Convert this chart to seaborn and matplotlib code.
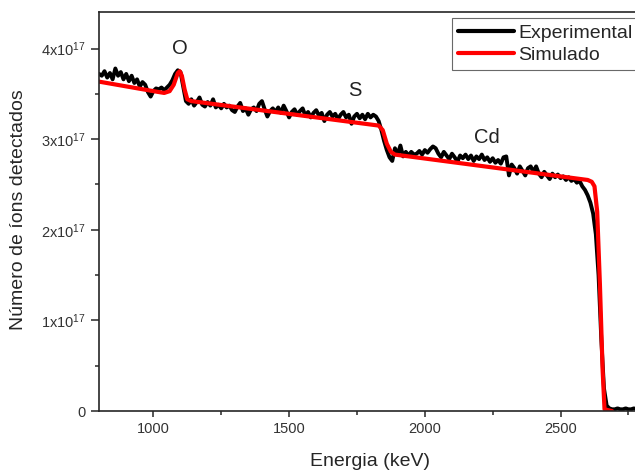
import numpy as np
import pandas as pd
import matplotlib
matplotlib.use('Agg')
import matplotlib.pyplot as plt
import seaborn as sns
from matplotlib.ticker import FixedLocator, MultipleLocator

# Experimental RBS spectrum (channel energies in keV, counts in units of 1e17)
exp_energy = np.arange(800, 2810, 10)
exp_counts = [
    3.72, 3.70, 3.75, 3.68, 3.73, 3.66, 3.78, 3.70, 3.74, 3.66,
    3.72, 3.64, 3.70, 3.62, 3.66, 3.58, 3.63, 3.60, 3.52, 3.47,
    3.53, 3.56, 3.55, 3.57, 3.54, 3.57, 3.60, 3.65, 3.72, 3.76,
    3.74, 3.58, 3.42, 3.39, 3.44, 3.37, 3.41, 3.46, 3.38, 3.36,
    3.41, 3.37, 3.44, 3.35, 3.38, 3.34, 3.39, 3.35, 3.37, 3.32,
    3.30, 3.36, 3.40, 3.31, 3.34, 3.27, 3.33, 3.35, 3.31, 3.39,
    3.42, 3.33, 3.25, 3.31, 3.34, 3.30, 3.35, 3.29, 3.37, 3.31,
    3.24, 3.30, 3.33, 3.27, 3.31, 3.34, 3.26, 3.30, 3.24, 3.29,
    3.32, 3.26, 3.29, 3.20, 3.27, 3.30, 3.25, 3.28, 3.22, 3.27,
    3.30, 3.24, 3.27, 3.17, 3.25, 3.28, 3.23, 3.27, 3.22, 3.28,
    3.24, 3.27, 3.25, 3.20, 3.10, 2.98, 2.88, 2.80, 2.76, 2.90,
    2.83, 2.93, 2.81, 2.86, 2.82, 2.86, 2.83, 2.84, 2.87, 2.83,
    2.88, 2.85, 2.89, 2.92, 2.90, 2.84, 2.80, 2.86, 2.82, 2.78,
    2.84, 2.80, 2.75, 2.82, 2.79, 2.83, 2.78, 2.82, 2.76, 2.81,
    2.78, 2.83, 2.77, 2.80, 2.75, 2.79, 2.74, 2.77, 2.73, 2.80,
    2.81, 2.60, 2.72, 2.68, 2.62, 2.70, 2.65, 2.60, 2.68, 2.70,
    2.64, 2.70, 2.62, 2.58, 2.64, 2.60, 2.56, 2.62, 2.58, 2.61,
    2.57, 2.59, 2.55, 2.58, 2.54, 2.56, 2.52, 2.54, 2.48, 2.44,
    2.38, 2.30, 2.18, 1.95, 1.50, 0.80, 0.25, 0.06, 0.03, 0.02,
    0.02, 0.03, 0.02, 0.02, 0.03, 0.02, 0.02, 0.03, 0.02, 0.02,
    0.02,
]

# Simulated spectrum
sim_energy = [790, 1000, 1040, 1060, 1075, 1090, 1097, 1105, 1115, 1125, 1140,
              1830, 1845, 1860, 1875, 1890, 2600, 2615, 2625, 2635, 2645,
              2655, 2662, 2690]
sim_counts = [3.64, 3.53, 3.51, 3.53, 3.60, 3.73, 3.75, 3.70, 3.55, 3.44, 3.42,
              3.15, 3.10, 2.95, 2.86, 2.83, 2.55, 2.53, 2.48, 2.20, 1.40,
              0.45, 0.02, 0.0]

# Element labels
elements = ['O', 'S', 'Cd']
element_energy = [1096, 1744, 2227]
element_counts = [4.0, 3.54, 3.02]

y_ticks = [0, 1, 2, 3, 4]
y_ticklabels = ['0', r'$\mathregular{1x10^{17}}$', r'$\mathregular{2x10^{17}}$',
                r'$\mathregular{3x10^{17}}$', r'$\mathregular{4x10^{17}}$']

df_exp = pd.DataFrame({'Energia': exp_energy, 'Contagens': np.array(exp_counts) * 1e17})
df_sim = pd.DataFrame({'Energia': sim_energy, 'Contagens': np.array(sim_counts) * 1e17})

sns.set_style('ticks')
plt.rcParams['font.family'] = ['Liberation Sans', 'DejaVu Sans']
plt.rcParams['mathtext.fontset'] = 'custom'
plt.rcParams['mathtext.rm'] = 'Liberation Sans'

fig = plt.figure(figsize=(6.35, 4.72), dpi=100)
ax = fig.add_axes([0.156, 0.129, 0.855, 0.845])

sns.lineplot(data=df_exp, x='Energia', y='Contagens', ax=ax, color='black',
             linewidth=2.8, label='Experimental', sort=False)
sns.lineplot(data=df_sim, x='Energia', y='Contagens', ax=ax, color='#ff0000',
             linewidth=3.0, label='Simulado', sort=False)

for name, e, c in zip(elements, element_energy, element_counts):
    ax.text(e, c * 1e17, name, ha='center', va='center', fontsize=14.5, color='#222222')

ax.set_xlim(800, 2800)
ax.set_ylim(0, 4.4e17)
ax.xaxis.set_major_locator(FixedLocator([1000, 1500, 2000, 2500]))
ax.xaxis.set_minor_locator(FixedLocator([1250, 1750, 2250, 2750]))
ax.yaxis.set_major_locator(FixedLocator([t * 1e17 for t in y_ticks]))
ax.yaxis.set_minor_locator(MultipleLocator(0.5e17))
ax.set_yticklabels(y_ticklabels)

ax.tick_params(axis='both', which='major', labelsize=10.5, labelcolor='#333333', width=1.1)
ax.tick_params(axis='x', which='major', length=4)
ax.tick_params(axis='y', which='major', length=6)
ax.tick_params(axis='both', which='minor', length=3, width=1.1)
for side in ax.spines.values():
    side.set_linewidth(1.2)

ax.set_xlabel('Energia (keV)', fontsize=14)
ax.set_ylabel('Número de íons detectados', fontsize=14)
ax.xaxis.set_label_coords(0.499, -0.105)
ax.yaxis.set_label_coords(-0.133, 0.504)

leg = ax.legend(loc='upper left', bbox_to_anchor=(0.650, 0.985), borderaxespad=0,
                fontsize=14, handlelength=2.9, handletextpad=0.2, labelspacing=0.25,
                fancybox=False, frameon=True, borderpad=0.3)
leg.get_frame().set_edgecolor('#444444')
leg.get_frame().set_linewidth(0.8)
for line in leg.get_lines():
    line.set_linewidth(3)

fig.savefig('out.png', dpi=100)
